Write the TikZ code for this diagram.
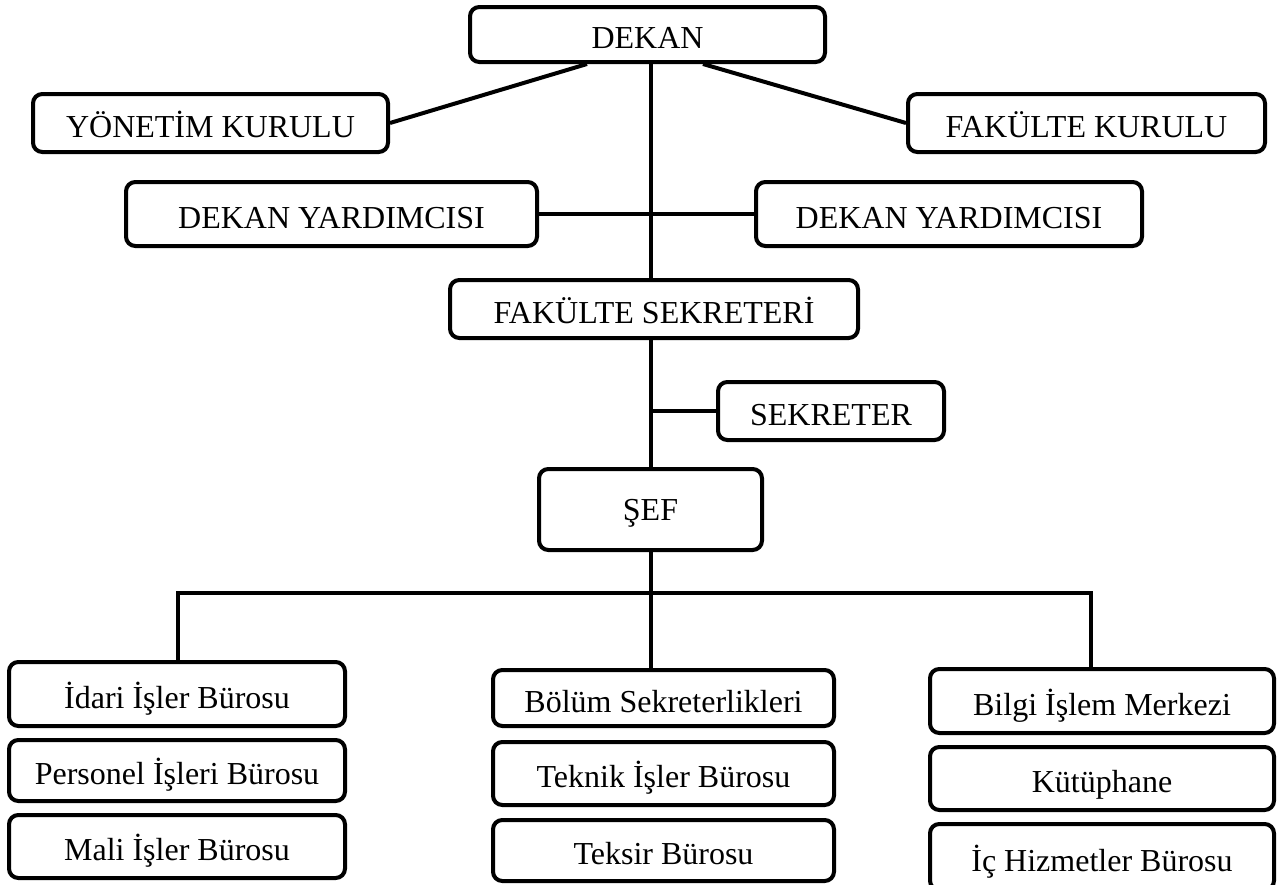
\documentclass[tikz,border=0pt]{standalone}
\usepackage{fontspec}
\setmainfont{Liberation Serif}

\begin{document}
\begin{tikzpicture}[x=0.75pt,y=-0.75pt,line width=3pt,unit node/.style={draw,rounded corners=7pt,fill=white,inner sep=0pt,text height=23pt,text depth=2pt,font=\fontsize{24}{28}\selectfont}]
\tikzstyle{link} = [draw,line width=3pt,-]
\useasboundingbox (0,0) rectangle (1286,885);

\coordinate (barL) at (178,593);
\coordinate (barR) at (1091,593);

% Draw management
\node[unit node,minimum width=266.25pt,minimum height=41.25pt] (dekan) at (647.5,34.5) {DEKAN};
\node[unit node,minimum width=266.25pt,minimum height=43.5pt] (yonetim) at (210.5,123) {YÖNETİM KURULU};
\node[unit node,minimum width=267.75pt,minimum height=43.5pt] (fkurul) at (1086.5,123) {FAKÜLTE KURULU};
\node[unit node,minimum width=308.25pt,minimum height=48pt] (dyL) at (331.5,214) {DEKAN YARDIMCISI};
\node[unit node,minimum width=289.5pt,minimum height=48pt] (dyR) at (949,214) {DEKAN YARDIMCISI};

% Draw secretariat
\node[unit node,minimum width=306pt,minimum height=43.5pt] (fsek) at (654,309) {FAKÜLTE SEKRETERİ};
\node[unit node,minimum width=169.5pt,minimum height=43.5pt] (sekreter) at (831,411) {SEKRETER};
\node[unit node,minimum width=167.25pt,minimum height=60.75pt,text height=18pt,text depth=2pt] (sef) at (650.5,509.5) {ŞEF};

% Draw offices, left column
\node[unit node,minimum width=252pt,minimum height=48pt] (idari) at (177,694) {İdari İşler Bürosu};
\node[unit node,minimum width=252pt,minimum height=45.75pt] (personel) at (177,770.5) {Personel İşleri Bürosu};
\node[unit node,minimum width=252pt,minimum height=47.25pt] (mali) at (177,846.5) {Mali İşler Bürosu};

% Draw offices, middle column
\node[unit node,minimum width=255.75pt,minimum height=42pt] (bolum) at (663.5,698) {Bölüm Sekreterlikleri};
\node[unit node,minimum width=255.75pt,minimum height=47.25pt] (teknik) at (663.5,773.5) {Teknik İşler Bürosu};
\node[unit node,minimum width=255.75pt,minimum height=45.75pt] (teksir) at (663.5,850.5) {Teksir Bürosu};

% Draw offices, right column
\node[unit node,minimum width=258pt,minimum height=48pt] (bilgi) at (1102,701) {Bilgi İşlem Merkezi};
\node[unit node,minimum width=258pt,minimum height=47.25pt] (kutup) at (1102,778.5) {Kütüphane};
\node[unit node,minimum width=258pt,minimum height=49.5pt] (ichiz) at (1102,857) {İç Hizmetler Bürosu};

% Draw links
\draw[link] (dekan.206) -- (yonetim.east);
\draw[link] (dekan.-28) -- (fkurul.west);
\draw[link] (dyL.east) -- (dyR.west);
\draw[link] (dekan.south -| sef) -- (fsek.north -| sef);
\draw[link] (fsek.south -| sef) -- (sef.north);
\draw[link] (sekreter.west) -- (sekreter.west -| sef);
\draw[link] (sef.south) -- (bolum.north -| sef);
\draw[link] (idari.north -| barL) -- (barL) -- (barR) -- (bilgi.north -| barR);

\end{tikzpicture}
\end{document}
